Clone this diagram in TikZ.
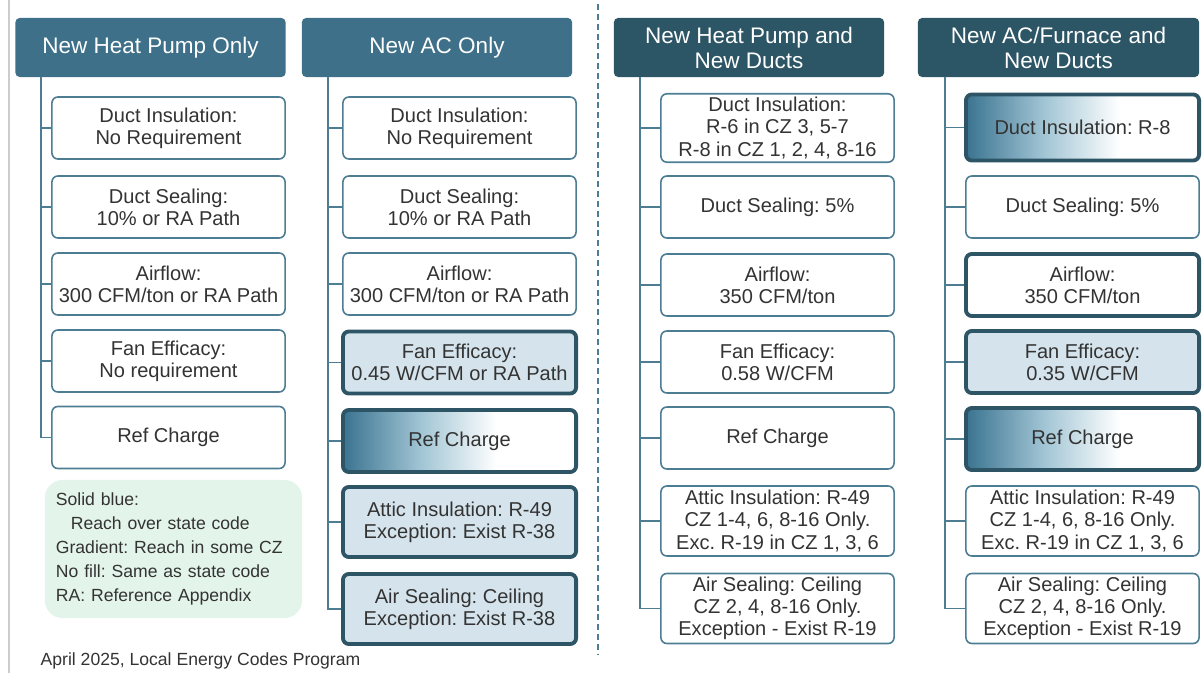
\documentclass[tikz,border=0pt]{standalone}
\usepackage{fontspec}
\setmainfont{Liberation Sans}
\frenchspacing
\definecolor{headA}{HTML}{3E7089}
\definecolor{headB}{HTML}{2C5565}
\definecolor{edge}{HTML}{4D7D92}
\definecolor{boldedge}{HTML}{2E5566}
\definecolor{solid}{HTML}{D5E4EC}
\definecolor{gdark}{HTML}{3A7390}
\definecolor{gmid}{HTML}{A3C6D5}
\definecolor{notefill}{HTML}{E3F4EA}
\definecolor{ink}{HTML}{333333}
\pgfdeclarehorizontalshading{refgrad}{100bp}{color(0bp)=(gdark); color(25bp)=(gdark); color(42bp)=(gmid); color(58bp)=(white); color(100bp)=(white)}

\begin{document}
\begin{tikzpicture} [x=0.01cm,y=-0.01cm,
				head/.style={rounded corners=1.2pt,text=white,minimum width=2.70cm,minimum height=0.59cm,align=center,inner sep=1pt,font=\fontsize{6.4}{7.1}\selectfont},
				req/.style={draw=edge,line width=0.45pt,rounded corners=1.7pt,fill=white,text=ink,minimum width=2.33cm,minimum height=0.62cm,align=center,inner sep=1pt,font=\fontsize{5.7}{6.3}\selectfont},
				ring/.style={req,draw=boldedge,line width=1.1pt},
				reach/.style={ring,fill=solid},
				some/.style={ring,shade,shading=refgrad},
				tall/.style={minimum height=0.70cm},
				tree/.style={edge,line width=0.45pt}]
				\useasboundingbox (0,0) rectangle (1203,673);
				
				\draw[black!20,line width=0.5pt] (9,0) -- (9,673);
				\draw[tree,dash pattern=on 1.7pt off 1.1pt] (598,4) -- (598,655);
				
				\node[head,fill=headA] (h1) at (150.5,47.5) {New Heat Pump Only};
				\node[head,fill=headA] (h2) at (437,47.5) {New AC Only};
				\node[head,fill=headB] (h3) at (749,47.5) {New Heat Pump and\\New Ducts};
				\node[head,fill=headB,minimum width=2.81cm] (h4) at (1058.5,47.5) {New AC/Furnace and\\New Ducts};
				
				\node[req] (c1b1) at (168.5,128) {Duct Insulation:\\No Requirement};
				\node[req] (c1b2) at (168.5,207) {Duct Sealing:\\10\% or RA Path};
				\node[req] (c1b3) at (168.5,284) {Airflow:\\300 CFM/ton or RA Path};
				\node[req] (c1b4) at (168.5,361) {Fan Efficacy:\\No requirement};
				\node[req] (c1b5) at (168.5,437.5) {Ref Charge};
				
				\node[req] (c2b1) at (459.5,128) {Duct Insulation:\\No Requirement};
				\node[req] (c2b2) at (459.5,207) {Duct Sealing:\\10\% or RA Path};
				\node[req] (c2b3) at (459.5,284) {Airflow:\\300 CFM/ton or RA Path};
				\node[reach] (c2b4) at (459.5,362.5) {Fan Efficacy:\\0.45 W/CFM or RA Path};
				\node[some] (c2b5) at (459.5,441) {Ref Charge};
				\node[reach,tall] (c2b6) at (459.5,522) {Attic Insulation: R-49\\Exception: Exist R-38};
				\node[reach,tall] (c2b7) at (459.5,609) {Air Sealing: Ceiling\\Exception: Exist R-38};
				
				\node[req,minimum height=0.66cm] (c3b1) at (777.5,128) {Duct Insulation:\\R-6 in CZ 3, 5-7\\R-8 in CZ 1, 2, 4, 8-16};
				\node[req] (c3b2) at (777.5,207) {Duct Sealing: 5\%};
				\node[req] (c3b3) at (777.5,285) {Airflow:\\350 CFM/ton};
				\node[req] (c3b4) at (777.5,362) {Fan Efficacy:\\0.58 W/CFM};
				\node[req] (c3b5) at (777.5,438) {Ref Charge};
				\node[req,tall] (c3b6) at (777.5,521) {Attic Insulation: R-49\\CZ 1-4, 6, 8-16 Only.\\Exc. R-19 in CZ 1, 3, 6};
				\node[req,tall] (c3b7) at (777.5,608.5) {Air Sealing: Ceiling\\CZ 2, 4, 8-16 Only.\\Exception - Exist R-19};
				
				\node[some,minimum height=0.66cm] (c4b1) at (1082.5,127.5) {Duct Insulation: R-8};
				\node[req] (c4b2) at (1082.5,207) {Duct Sealing: 5\%};
				\node[ring] (c4b3) at (1082.5,285) {Airflow:\\350 CFM/ton};
				\node[reach] (c4b4) at (1082.5,362) {Fan Efficacy:\\0.35 W/CFM};
				\node[some] (c4b5) at (1082.5,439) {Ref Charge};
				\node[req,tall] (c4b6) at (1082.5,521) {Attic Insulation: R-49\\CZ 1-4, 6, 8-16 Only.\\Exc. R-19 in CZ 1, 3, 6};
				\node[req,tall] (c4b7) at (1082.5,608.5) {Air Sealing: Ceiling\\CZ 2, 4, 8-16 Only.\\Exception - Exist R-19};
				
				\coordinate (t1) at (41,77);
				\coordinate (t2) at (328,77);
				\coordinate (t3) at (640,77);
				\coordinate (t4) at (945,77);
				
				\draw[tree] (t1) |- (c1b5.west);
				\foreach \n in {1,2,3,4}
				\draw[tree] (c1b\n.west) -- (c1b\n.west -| t1);
				\foreach \c in {2,3,4} {
				\draw[tree] (t\c) |- (c\c b7.west);
				\foreach \n in {1,...,6}
				\draw[tree] (c\c b\n.west) -- (c\c b\n.west -| t\c);
				}
				
				\node[fill=notefill,rounded corners=5pt,text=ink,align=left,text width=2.35cm,inner xsep=0.11cm,minimum height=1.38cm,font=\fontsize{5}{6.8}\selectfont] (key) at (173.5,549) {Solid blue:\\\hspace*{0.15cm}Reach over state code\\Gradient: Reach in some CZ\\No fill: Same as state code\\RA: Reference Appendix};
				
				\node[anchor=base west,text=ink,inner sep=0pt,font=\fontsize{5}{6}\selectfont] (foot) at (40,665) {April 2025, Local Energy Codes Program};
				\end{tikzpicture}
\end{document}
